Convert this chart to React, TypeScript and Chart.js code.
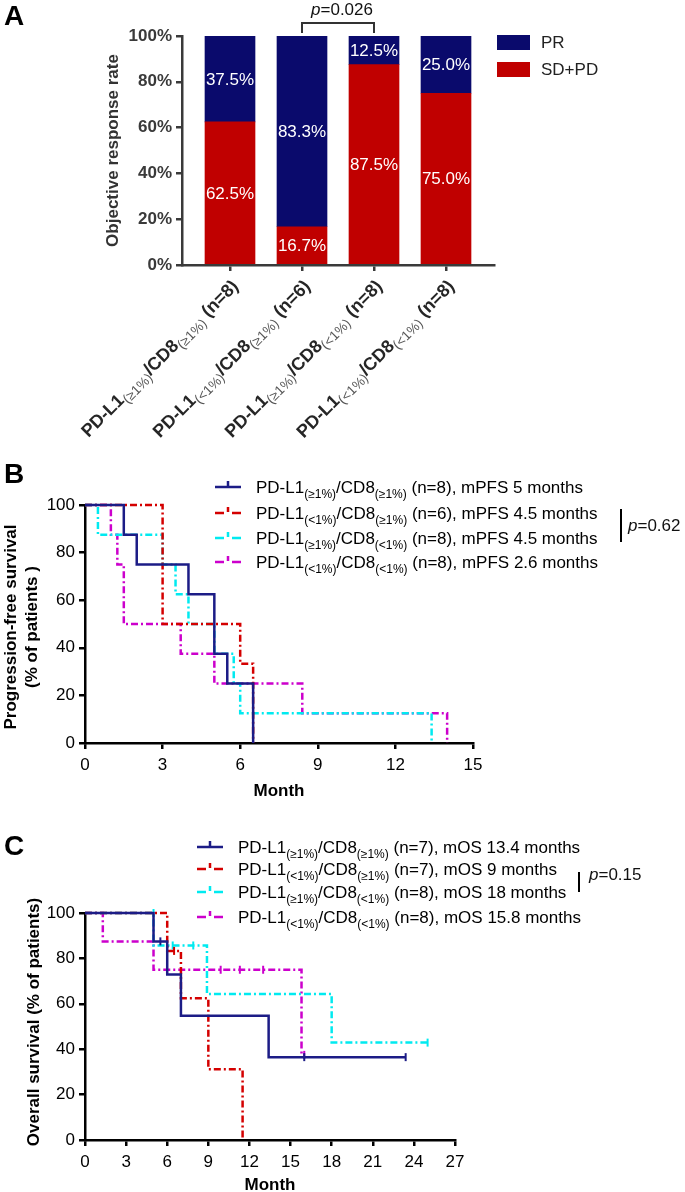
import React, { useEffect, useRef } from 'react';
import { Chart, registerables } from 'chart.js';

Chart.register(...registerables);

const FONT = 'Arial, "Liberation Sans", Helvetica, sans-serif';

// ---------------- Panel A: objective response rate ----------------
const groupPdl1 = ['≥1%', '<1%', '≥1%', '<1%'];
const groupCd8 = ['≥1%', '≥1%', '<1%', '<1%'];
const orrN = [8, 6, 8, 8];
const prRate = [37.5, 83.3, 12.5, 25.0];
const sdpdRate = [62.5, 16.7, 87.5, 75.0];
const orrYTicks = [0, 20, 40, 60, 80, 100];
const orrSeriesNames = ['PR', 'SD+PD'];
const orrP = '0.026';
const orrPGroups = [2, 3];

// ---------------- Panel B: progression-free survival ----------------
const pfsN = [8, 6, 8, 8];
const pfsMedian = ['5', '4.5', '4.5', '2.6'];
const pfsP = '0.62';
const pfsXTicks = [0, 3, 6, 9, 12, 15];
const survYTicks = [0, 20, 40, 60, 80, 100];
const pfsT1 = [0, 1.5, 2, 4, 5, 5.5, 6.5];
const pfsS1 = [100, 87.5, 75, 62.5, 37.5, 25, 0];
const pfsT2 = [0, 3, 6, 6.5];
const pfsS2 = [100, 50, 33.3, 0];
const pfsT3 = [0, 0.5, 3, 3.5, 4, 5, 5.75, 6, 13.4];
const pfsS3 = [100, 87.5, 75, 62.5, 50, 37.5, 25, 12.5, 0];
const pfsT4 = [0, 1, 1.25, 1.5, 3.7, 5, 8.4, 14];
const pfsS4 = [100, 87.5, 75, 50, 37.5, 25, 12.5, 0];

// ---------------- Panel C: overall survival ----------------
const osN = [7, 7, 8, 8];
const osMedian = ['13.4', '9', '18', '15.8'];
const osP = '0.15';
const osXTicks = [0, 3, 6, 9, 12, 15, 18, 21, 24, 27];
const osT1 = [0, 5, 6, 7, 13.4, 23.4];
const osS1 = [100, 87.5, 72.9, 54.7, 36.5, 36.5];
const osCensT1 = [5.5, 16, 23.4];
const osCensS1 = [87.5, 36.5, 36.5];
const osT2 = [0, 6, 7, 9, 11.5];
const osS2 = [100, 83.3, 62.5, 31.2, 0];
const osCensT2 = [6.5];
const osCensS2 = [83.3];
const osT3 = [0, 5, 8.9, 18, 25];
const osS3 = [100, 85.7, 64.3, 42.9, 42.9];
const osCensT3 = [5, 6.4, 7.9, 25];
const osCensS3 = [100, 85.7, 85.7, 42.9];
const osT4 = [0, 1.3, 5, 15.8, 16];
const osS4 = [100, 87.5, 75, 37.5, 37.5];
const osCensT4 = [9.9, 11.3, 13, 16];
const osCensS4 = [75, 75, 75, 37.5];

// ---------------- styles ----------------
const barColors = ['#0a0a6c', '#c00000']; // PR, SD+PD
const kmColors = ['#1c1c86', '#d40000', '#00eaf0', '#cc00cc'];
const kmDashes: number[][] = [[], [7, 3, 2, 3], [7, 3, 2, 3], [7, 3, 2, 3]];

type Seg = { text: string; sub?: boolean };

function groupSegs(pdl1: string, cd8: string, tail: string): Seg[] {
  return [
    { text: 'PD-L1' },
    { text: `(${pdl1})`, sub: true },
    { text: '/CD8' },
    { text: `(${cd8})`, sub: true },
    { text: tail },
  ];
}

interface RichOpts {
  mainFont: string;
  subFont: string;
  mainColor: string;
  subColor: string;
  subShift: number;
  align: 'left' | 'right';
}

function drawRich(ctx: CanvasRenderingContext2D, segs: Seg[], x: number, baseline: number, o: RichOpts) {
  ctx.save();
  ctx.textBaseline = 'alphabetic';
  ctx.textAlign = 'left';
  const widths = segs.map((s) => {
    ctx.font = s.sub ? o.subFont : o.mainFont;
    return ctx.measureText(s.text).width;
  });
  const total = widths.reduce((a, b) => a + b, 0);
  let cx = o.align === 'right' ? x - total : x;
  segs.forEach((s, i) => {
    ctx.font = s.sub ? o.subFont : o.mainFont;
    ctx.fillStyle = s.sub ? o.subColor : o.mainColor;
    ctx.fillText(s.text, cx, baseline + (s.sub ? o.subShift : 0));
    cx += widths[i];
  });
  ctx.restore();
  return total;
}

function drawPValue(ctx: CanvasRenderingContext2D, value: string, x: number, baseline: number, align: 'left' | 'center') {
  ctx.save();
  ctx.textBaseline = 'alphabetic';
  ctx.textAlign = 'left';
  ctx.fillStyle = '#111';
  ctx.font = `italic 17px ${FONT}`;
  const w1 = ctx.measureText('p').width;
  ctx.font = `17px ${FONT}`;
  const w2 = ctx.measureText(`=${value}`).width;
  const left = align === 'center' ? x - (w1 + w2) / 2 : x;
  ctx.font = `italic 17px ${FONT}`;
  ctx.fillText('p', left, baseline);
  ctx.font = `17px ${FONT}`;
  ctx.fillText(`=${value}`, left + w1, baseline);
  ctx.restore();
}

function axisStyle(color: string, bold: boolean) {
  return {
    ticks: {
      font: { family: FONT, size: 17, weight: bold ? 'bold' : 'normal' },
      color,
      autoSkip: false,
      maxRotation: 0,
      minRotation: 0,
    },
    grid: { drawOnChartArea: false, drawTicks: true, tickLength: 6, color, lineWidth: 2.5, offset: false },
    border: { display: true, color, width: 2.5 },
  };
}

// ---------------- Panel A config ----------------
function makeOrr(): any {
  const H = 455;
  const area = { left: 182, top: 36, right: 494, bottom: 265 };
  const xs = axisStyle('#3a3a3a', true);
  const ys = axisStyle('#3a3a3a', true);
  const datasets = [
    {
      label: orrSeriesNames[1],
      data: sdpdRate.map((v, i) => ({ x: i + 1, y: v })),
      backgroundColor: barColors[1],
      borderWidth: 0,
      barThickness: 50,
    },
    {
      label: orrSeriesNames[0],
      data: prRate.map((v, i) => ({ x: i + 1, y: v })),
      backgroundColor: barColors[0],
      borderWidth: 0,
      barThickness: 50,
    },
  ];
  const decor = {
    id: 'orrDecor',
    afterDraw(chart: any) {
      const ctx: CanvasRenderingContext2D = chart.ctx;
      const a = chart.chartArea;
      const xsc = chart.scales.x;
      ctx.save();
      ctx.fillStyle = '#000';
      ctx.font = `bold 28px ${FONT}`;
      ctx.textAlign = 'left';
      ctx.textBaseline = 'alphabetic';
      ctx.fillText('A', 4, 25);

      // y title
      ctx.save();
      ctx.translate(113, (a.top + a.bottom) / 2);
      ctx.rotate(-Math.PI / 2);
      ctx.font = `bold 17px ${FONT}`;
      ctx.fillStyle = '#333';
      ctx.textAlign = 'center';
      ctx.textBaseline = 'middle';
      ctx.fillText('Objective response rate', 0, 0);
      ctx.restore();

      // value labels in bars
      chart.data.datasets.forEach((ds: any, di: number) => {
        const meta = chart.getDatasetMeta(di);
        meta.data.forEach((el: any, i: number) => {
          const v = ds.data[i].y;
          ctx.font = `17px ${FONT}`;
          ctx.fillStyle = '#fff';
          ctx.textAlign = 'center';
          ctx.textBaseline = 'middle';
          ctx.fillText(`${v.toFixed(1)}%`, el.x, (el.y + el.base) / 2 + 1);
        });
      });

      // rotated category labels
      groupPdl1.forEach((p, i) => {
        const x = xsc.getPixelForValue(i + 1);
        ctx.save();
        ctx.translate(x + 5, a.bottom + 18);
        ctx.rotate(-Math.PI / 4);
        drawRich(ctx, groupSegs(p, groupCd8[i], ` (n=${orrN[i]})`), 0, 6, {
          mainFont: `bold 18px ${FONT}`,
          subFont: `13.5px ${FONT}`,
          mainColor: '#262626',
          subColor: '#555',
          subShift: 4,
          align: 'right',
        });
        ctx.restore();
      });

      // significance bracket
      const bx1 = xsc.getPixelForValue(orrPGroups[0]);
      const bx2 = xsc.getPixelForValue(orrPGroups[1]);
      ctx.strokeStyle = '#333';
      ctx.lineWidth = 2;
      ctx.beginPath();
      ctx.moveTo(bx1, 33);
      ctx.lineTo(bx1, 23);
      ctx.lineTo(bx2, 23);
      ctx.lineTo(bx2, 33);
      ctx.stroke();
      drawPValue(ctx, orrP, (bx1 + bx2) / 2 + 4, 15, 'center');

      // legend
      const lx = 497;
      const rows = [43, 70];
      const cols = [barColors[0], barColors[1]];
      rows.forEach((cy, i) => {
        ctx.fillStyle = cols[i];
        ctx.fillRect(lx, cy - 8, 33, 15);
        ctx.fillStyle = '#222';
        ctx.font = `17px ${FONT}`;
        ctx.textAlign = 'left';
        ctx.textBaseline = 'middle';
        ctx.fillText(orrSeriesNames[i], lx + 44, cy);
      });
      ctx.restore();
    },
  };
  return {
    type: 'bar',
    data: { datasets },
    options: {
      responsive: false,
      animation: false,
      devicePixelRatio: 1,
      events: [],
      layout: { padding: { left: 0, top: area.top, right: 685 - area.right, bottom: 0 } },
      plugins: { legend: { display: false }, tooltip: { enabled: false } },
      scales: {
        x: {
          type: 'linear',
          stacked: true,
          offset: false,
          min: 1 - 2 / 3,
          max: 4 + 2 / 3,
          afterBuildTicks: (s: any) => {
            s.ticks = groupPdl1.map((_, i) => ({ value: i + 1 }));
          },
          afterFit: (s: any) => {
            s.height = H - area.bottom;
          },
          ...xs,
          ticks: { ...xs.ticks, callback: () => '' },
        },
        y: {
          stacked: true,
          min: 0,
          max: 100,
          afterBuildTicks: (s: any) => {
            s.ticks = orrYTicks.map((v) => ({ value: v }));
          },
          afterFit: (s: any) => {
            s.width = area.left;
          },
          ...ys,
          ticks: { ...ys.ticks, padding: 4, callback: (v: any) => `${v}%` },
        },
      },
    },
    plugins: [decor],
  };
}

// ---------------- KM config ----------------
interface KmSeries {
  t: number[];
  s: number[];
  ct?: number[];
  cs?: number[];
}

interface KmOpts {
  H: number;
  area: { left: number; top: number; right: number; bottom: number };
  xMax: number;
  xTicks: number[];
  series: KmSeries[];
  letter: string;
  letterBaseline: number;
  legendSegs: Seg[][];
  rowsY: number[];
  symX: number;
  textX: number;
  bracketX: number;
  bracketY: [number, number];
  pValue: string;
  pX: number;
  pY: number;
  yTitles: { text: string; x: number }[];
  yTitleCY: number;
  monthTop: number;
}

function makeKm(o: KmOpts): any {
  const datasets: any[] = [];
  o.series.forEach((s, i) => {
    datasets.push({
      label: `curve${i}`,
      data: s.t.map((t, j) => ({ x: t, y: s.s[j] })),
      borderColor: kmColors[i],
      borderWidth: 2.5,
      borderDash: kmDashes[i],
      stepped: 'before',
      pointRadius: 0,
      fill: false,
      clip: false,
      order: i,
    });
  });
  o.series.forEach((s, i) => {
    if (s.ct && s.cs) {
      const cs = s.cs;
      datasets.push({
        label: `censor${i}`,
        data: s.ct.map((t, j) => ({ x: t, y: cs[j] })),
        showLine: false,
        pointStyle: 'line',
        rotation: 90,
        pointRadius: 4,
        pointBorderWidth: 2,
        pointBorderColor: kmColors[i],
        pointBackgroundColor: kmColors[i],
        borderColor: kmColors[i],
        clip: false,
        order: i,
      });
    }
  });
  const st = axisStyle('#000', false);
  const decor = {
    id: 'kmDecor',
    afterDraw(chart: any) {
      const ctx: CanvasRenderingContext2D = chart.ctx;
      const a = chart.chartArea;
      ctx.save();
      ctx.fillStyle = '#000';
      ctx.font = `bold 28px ${FONT}`;
      ctx.textAlign = 'left';
      ctx.textBaseline = 'alphabetic';
      ctx.fillText(o.letter, 4, o.letterBaseline);

      // y titles
      o.yTitles.forEach((yt) => {
        ctx.save();
        ctx.translate(yt.x, o.yTitleCY);
        ctx.rotate(-Math.PI / 2);
        ctx.font = `bold 17px ${FONT}`;
        ctx.fillStyle = '#000';
        ctx.textAlign = 'center';
        ctx.textBaseline = 'middle';
        ctx.fillText(yt.text, 0, 0);
        ctx.restore();
      });

      // x title
      ctx.font = `bold 17px ${FONT}`;
      ctx.fillStyle = '#000';
      ctx.textAlign = 'center';
      ctx.textBaseline = 'top';
      ctx.fillText('Month', (a.left + a.right) / 2, o.monthTop);

      // legend
      o.legendSegs.forEach((segs, i) => {
        const cy = o.rowsY[i];
        const x0 = o.symX;
        const w = 26;
        ctx.strokeStyle = kmColors[i];
        ctx.lineWidth = 2.5;
        ctx.setLineDash([]);
        ctx.beginPath();
        if (kmDashes[i].length === 0) {
          ctx.moveTo(x0, cy);
          ctx.lineTo(x0 + w, cy);
          ctx.moveTo(x0 + w / 2, cy);
          ctx.lineTo(x0 + w / 2, cy - 6);
        } else {
          ctx.moveTo(x0, cy);
          ctx.lineTo(x0 + 9, cy);
          ctx.moveTo(x0 + w - 9, cy);
          ctx.lineTo(x0 + w, cy);
          ctx.moveTo(x0 + w / 2, cy - 6);
          ctx.lineTo(x0 + w / 2, cy - 1);
        }
        ctx.stroke();
        drawRich(ctx, segs, o.textX, cy + 6, {
          mainFont: `17px ${FONT}`,
          subFont: `12px ${FONT}`,
          mainColor: '#000',
          subColor: '#000',
          subShift: 5,
          align: 'left',
        });
      });

      // p value bracket
      ctx.strokeStyle = '#000';
      ctx.lineWidth = 2;
      ctx.beginPath();
      ctx.moveTo(o.bracketX, o.bracketY[0]);
      ctx.lineTo(o.bracketX, o.bracketY[1]);
      ctx.stroke();
      drawPValue(ctx, o.pValue, o.pX, o.pY + 6, 'left');
      ctx.restore();
    },
  };
  return {
    type: 'line',
    data: { datasets },
    options: {
      responsive: false,
      animation: false,
      devicePixelRatio: 1,
      events: [],
      layout: { padding: { left: 0, top: o.area.top, right: 685 - o.area.right, bottom: 0 } },
      plugins: { legend: { display: false }, tooltip: { enabled: false } },
      scales: {
        x: {
          type: 'linear',
          min: 0,
          max: o.xMax,
          afterBuildTicks: (s: any) => {
            s.ticks = o.xTicks.map((v) => ({ value: v }));
          },
          afterFit: (s: any) => {
            s.height = o.H - o.area.bottom;
          },
          ...st,
          ticks: { ...st.ticks, padding: 6 },
        },
        y: {
          type: 'linear',
          min: 0,
          max: 100,
          afterBuildTicks: (s: any) => {
            s.ticks = survYTicks.map((v) => ({ value: v }));
          },
          afterFit: (s: any) => {
            s.width = o.area.left;
          },
          ...st,
          ticks: { ...st.ticks, padding: 4 },
        },
      },
    },
    plugins: [decor],
  };
}

function makePfs(): any {
  return makeKm({
    H: 345,
    area: { left: 85, top: 50, right: 473, bottom: 288 },
    xMax: 15,
    xTicks: pfsXTicks,
    series: [
      { t: pfsT1, s: pfsS1 },
      { t: pfsT2, s: pfsS2 },
      { t: pfsT3, s: pfsS3 },
      { t: pfsT4, s: pfsS4 },
    ],
    letter: 'B',
    letterBaseline: 28,
    legendSegs: groupPdl1.map((p, i) =>
      groupSegs(p, groupCd8[i], ` (n=${pfsN[i]}), mPFS ${pfsMedian[i]} months`)
    ),
    rowsY: [32, 58, 83, 107],
    symX: 215,
    textX: 256,
    bracketX: 621,
    bracketY: [54, 87],
    pValue: pfsP,
    pX: 628,
    pY: 70,
    yTitles: [
      { text: 'Progression-free survival', x: 11 },
      { text: '(% of patients )', x: 32 },
    ],
    yTitleCY: 172,
    monthTop: 328,
  });
}

function makeOs(): any {
  return makeKm({
    H: 392,
    area: { left: 85, top: 113, right: 455, bottom: 340 },
    xMax: 27,
    xTicks: osXTicks,
    series: [
      { t: osT1, s: osS1, ct: osCensT1, cs: osCensS1 },
      { t: osT2, s: osS2, ct: osCensT2, cs: osCensS2 },
      { t: osT3, s: osS3, ct: osCensT3, cs: osCensS3 },
      { t: osT4, s: osS4, ct: osCensT4, cs: osCensS4 },
    ],
    letter: 'C',
    letterBaseline: 55,
    legendSegs: groupPdl1.map((p, i) =>
      groupSegs(p, groupCd8[i], ` (n=${osN[i]}), mOS ${osMedian[i]} months`)
    ),
    rowsY: [47, 69, 92, 117],
    symX: 197,
    textX: 238,
    bracketX: 579,
    bracketY: [72, 92],
    pValue: osP,
    pX: 589,
    pY: 74,
    yTitles: [{ text: 'Overall survival (% of patients)', x: 34 }],
    yTitleCY: 222,
    monthTop: 377,
  });
}

function ChartCanvas({ top, height, make }: { top: number; height: number; make: () => any }) {
  const ref = useRef<HTMLCanvasElement>(null);
  useEffect(() => {
    const chart = new Chart(ref.current as HTMLCanvasElement, make());
    return () => chart.destroy();
  }, [make]);
  return (
    <canvas
      ref={ref}
      width={685}
      height={height}
      style={{ position: 'absolute', left: 0, top, width: 685, height, display: 'block' }}
    />
  );
}

export default function App() {
  return (
    <div
      style={{
        position: 'absolute',
        left: 0,
        top: 0,
        width: 685,
        height: 1192,
        background: '#fff',
        overflow: 'hidden',
      }}
    >
      <ChartCanvas top={0} height={455} make={makeOrr} />
      <ChartCanvas top={455} height={345} make={makePfs} />
      <ChartCanvas top={800} height={392} make={makeOs} />
    </div>
  );
}
